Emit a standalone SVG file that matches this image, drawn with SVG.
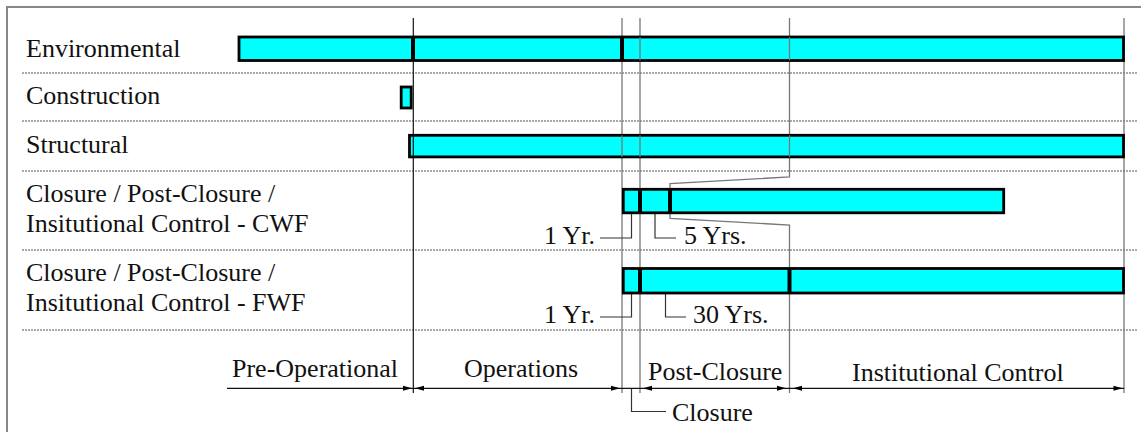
<svg xmlns="http://www.w3.org/2000/svg" width="1141" height="432" viewBox="0 0 1141 432">
<style>
text{font-family:"Liberation Serif","Times New Roman",serif;font-size:26px;fill:#111}
.bar{fill:#00FFFF;stroke:#000;stroke-width:2.8}
.div{stroke:#000;stroke-width:4}
.sep{stroke:#555;stroke-width:1;stroke-dasharray:2 1}
.vg{stroke:#777;stroke-width:1.3;fill:none}
.vb{stroke:#111;stroke-width:1.2;fill:none}
.call{stroke:#333;stroke-width:1.2;fill:none}
.frame{stroke:#888;stroke-width:2;fill:none}
</style>
<defs>
<polygon id="ah" points="0,0 -9,-2.5 -9,2.5" fill="#000"/>
</defs>
<rect width="1141" height="432" fill="#fff"/>
<polyline class="frame" points="7,432 7,7 1141,7"/>
<g id="separators">
<line class="sep" x1="22" y1="73" x2="1138" y2="73"/>
<line class="sep" x1="22" y1="121" x2="1138" y2="121"/>
<line class="sep" x1="22" y1="171" x2="1138" y2="171"/>
<line class="sep" x1="22" y1="250" x2="1138" y2="250"/>
<line class="sep" x1="22" y1="330" x2="1138" y2="330"/>
</g>
<g id="connectors">
<line class="vb" x1="413.3" y1="18" x2="413.3" y2="393"/>
<line class="vg" x1="622" y1="18" x2="622" y2="393"/>
<line class="vg" x1="640" y1="18" x2="640" y2="393"/>
<polyline class="vg" points="789.5,18 789.5,177 670,183.5 670,189"/>
<polyline class="vg" points="670,213 670,218.5 789.5,225 789.5,393"/>
<line class="vg" x1="1124" y1="18" x2="1124" y2="393"/>
<polyline class="call" points="631.5,213 631.5,238 600,238"/>
<polyline class="call" points="655,213 655,238 676,238"/>
<polyline class="call" points="631.5,293 631.5,317 600,317"/>
<polyline class="call" points="665.5,293 665.5,317 686,317"/>
<polyline class="call" points="631.5,388 631.5,411.5 666,411.5"/>
<line x1="227" y1="388.3" x2="1124" y2="388.3" stroke="#111" stroke-width="1.3"/>
<use href="#ah" transform="translate(412,388.3)"/>
<use href="#ah" transform="translate(415,388.3) rotate(180)"/>
<use href="#ah" transform="translate(620,388.3)"/>
<use href="#ah" transform="translate(643,388.3) rotate(180)"/>
<use href="#ah" transform="translate(786,388.3)"/>
<use href="#ah" transform="translate(793,388.3) rotate(180)"/>
<use href="#ah" transform="translate(1122.5,388.3)"/>
</g>
<g id="labels">
<text x="26" y="57">Environmental</text>
<text x="26" y="104">Construction</text>
<text x="26" y="153">Structural</text>
<text x="26" y="202">Closure / Post-Closure /</text>
<text x="26" y="232">Insitutional Control - CWF</text>
<text x="26" y="281">Closure / Post-Closure /</text>
<text x="26" y="311">Insitutional Control - FWF</text>
</g>
<g id="bar-environmental">
<rect class="bar" x="239" y="37" width="884.5" height="23.5"/>
<line class="vg" x1="640" y1="37" x2="640" y2="60.5"/>
<line class="vg" x1="789.5" y1="37" x2="789.5" y2="60.5"/>
<line class="div" x1="413" y1="37" x2="413" y2="60.5"/>
<line class="div" x1="622" y1="37" x2="622" y2="60.5"/>
</g>
<g id="bar-construction">
<rect class="bar" x="401.2" y="87" width="10" height="21"/>
</g>
<g id="bar-structural">
<rect class="bar" x="409.5" y="135.3" width="714" height="21.6"/>
<line class="vb" x1="413.3" y1="135.3" x2="413.3" y2="156.9"/>
<line class="vg" x1="622" y1="135.3" x2="622" y2="156.9"/>
<line class="vg" x1="640" y1="135.3" x2="640" y2="156.9"/>
<line class="vg" x1="789.5" y1="135.3" x2="789.5" y2="156.9"/>
</g>
<g id="bar-cwf">
<rect class="bar" x="623.3" y="189.3" width="380.4" height="23.5"/>
<line class="div" x1="640" y1="189.3" x2="640" y2="212.8"/>
<line class="div" x1="670" y1="189.3" x2="670" y2="212.8"/>
</g>
<g id="bar-fwf">
<rect class="bar" x="623.3" y="268.5" width="500.2" height="24.5"/>
<line class="div" x1="640" y1="268.5" x2="640" y2="293"/>
<line class="div" x1="789.5" y1="268.5" x2="789.5" y2="293"/>
</g>
<g id="callout-texts">
<text x="544" y="244">1 Yr.</text>
<text x="684" y="244">5 Yrs.</text>
<text x="544" y="323">1 Yr.</text>
<text x="693" y="323">30 Yrs.</text>
<text x="672" y="421">Closure</text>
</g>
<g id="phase-labels">
<text x="232" y="377">Pre-Operational</text>
<text x="464" y="377">Operations</text>
<text x="648" y="380">Post-Closure</text>
<text x="852" y="381">Institutional Control</text>
</g>
</svg>
